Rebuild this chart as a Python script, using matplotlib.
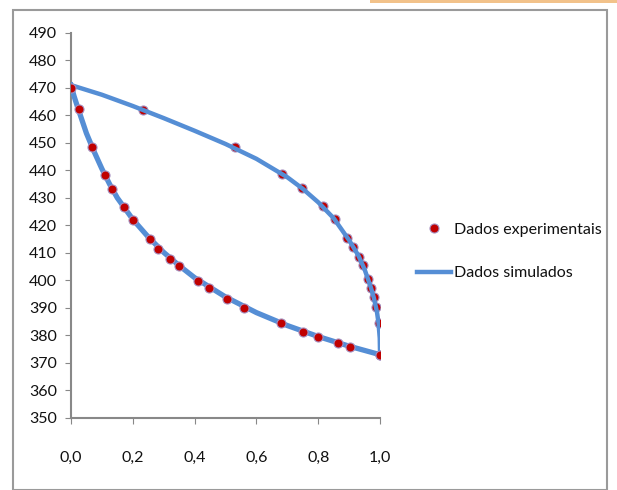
import matplotlib.pyplot as plt
from matplotlib.patches import Rectangle
from matplotlib.lines import Line2D

# dados experimentais - curva de bolha (inferior)
x_bolha_exp = [0.0, 0.027, 0.068, 0.109, 0.132, 0.173, 0.202, 0.256, 0.281, 0.320,
               0.350, 0.412, 0.447, 0.505, 0.560, 0.679, 0.750, 0.800, 0.865, 0.903, 1.0]
t_bolha_exp = [470.0, 462.3, 448.4, 438.5, 433.4, 426.6, 421.9, 415.0, 411.3, 407.9,
               405.3, 399.8, 397.2, 393.3, 390.1, 384.4, 381.3, 379.3, 377.2, 375.9, 372.8]

# dados experimentais - curva de orvalho (superior)
x_orv_exp = [0.232, 0.531, 0.683, 0.746, 0.814, 0.853, 0.893, 0.913, 0.933, 0.944,
             0.961, 0.971, 0.980, 0.986, 0.995, 1.0]
t_orv_exp = [462.0, 448.4, 438.6, 433.5, 427.0, 422.4, 415.3, 412.3, 408.5, 405.6,
             400.5, 397.2, 393.8, 390.5, 384.7, 372.9]

# dados simulados
x_bolha_sim = [0.0, 0.01, 0.02, 0.035, 0.05, 0.075, 0.1, 0.125, 0.15, 0.2, 0.25, 0.3,
               0.35, 0.4, 0.5, 0.6, 0.7, 0.8, 0.9, 1.0]
t_bolha_sim = [471.0, 467.0, 463.5, 458.5, 453.5, 446.8, 440.6, 435.0, 430.0, 422.2,
               415.8, 410.2, 405.4, 401.0, 394.0, 388.3, 383.6, 379.6, 376.1, 373.0]
x_orv_sim = [0.0, 0.1, 0.2, 0.3, 0.4, 0.5, 0.6, 0.7, 0.75, 0.8, 0.85, 0.9, 0.93,
             0.95, 0.97, 0.98, 0.99, 0.995, 0.999, 1.0]
t_orv_sim = [471.0, 467.5, 463.4, 459.0, 454.4, 449.6, 444.2, 437.5, 433.3, 428.4,
             422.6, 414.6, 409.0, 404.0, 397.5, 393.6, 388.5, 384.5, 379.0, 373.0]

xticks = [0.0, 0.2, 0.4, 0.6, 0.8, 1.0]
xtick_labels = ['0,0', '0,2', '0,4', '0,6', '0,8', '1,0']
yticks = list(range(350, 491, 10))

plt.rcParams['font.family'] = ['Lato', 'DejaVu Sans']

fig = plt.figure(figsize=(6.17, 4.9), dpi=100)
ax = fig.add_axes([0.115, 0.147, 0.501, 0.786])

azul = '#558ED5'
vermelho = '#C00000'

ax.plot(x_orv_exp, t_orv_exp, 'o', color=vermelho, markersize=6.5,
        markeredgecolor='#A58FBF', markeredgewidth=0.8, zorder=2)
ax.plot(x_bolha_sim, t_bolha_sim, '-', color=azul, lw=3.8, zorder=3)
ax.plot(x_orv_sim, t_orv_sim, '-', color=azul, lw=3.2, zorder=3)
ax.plot(x_bolha_exp, t_bolha_exp, 'o', color=vermelho, markersize=6.5,
        markeredgecolor='#A58FBF', markeredgewidth=0.8, zorder=4)

ax.set_xlim(0, 1.0)
ax.set_ylim(350, 490)
ax.set_xticks(xticks)
ax.set_xticklabels(xtick_labels)
ax.set_yticks(yticks)

for s in ['top', 'right']:
    ax.spines[s].set_visible(False)
for s in ['left', 'bottom']:
    ax.spines[s].set_color('#888888')
    ax.spines[s].set_linewidth(1.5)
ax.tick_params(axis='x', direction='out', length=4, color='#888888', pad=20,
               labelsize=11.5, labelcolor='#111111')
ax.tick_params(axis='y', direction='out', length=4, color='#888888', pad=6,
               labelsize=11.5, labelcolor='#111111')

handles = [
    Line2D([], [], ls='none', marker='o', color=vermelho, markersize=6.5,
           markeredgecolor='#A58FBF', markeredgewidth=0.8),
    Line2D([], [], color=azul, lw=3.2),
]
fig.legend(handles, ['Dados experimentais', 'Dados simulados'],
           loc='center left', bbox_to_anchor=(0.653, 0.487), frameon=False,
           handlelength=2.1, handletextpad=0.2, labelspacing=1.85, fontsize=11.5,
           labelcolor='#111111')

# moldura da figura
fig.patches.append(Rectangle((13 / 617, 0.0), 594 / 617, 480 / 490,
                             transform=fig.transFigure, fill=False,
                             edgecolor='#9a9a9a', lw=1.5))
fig.patches.append(Rectangle((370 / 617, 487 / 490), 247 / 617, 3 / 490,
                             transform=fig.transFigure, color='#F2C28A', lw=0))

fig.savefig('out.png', dpi=100)
